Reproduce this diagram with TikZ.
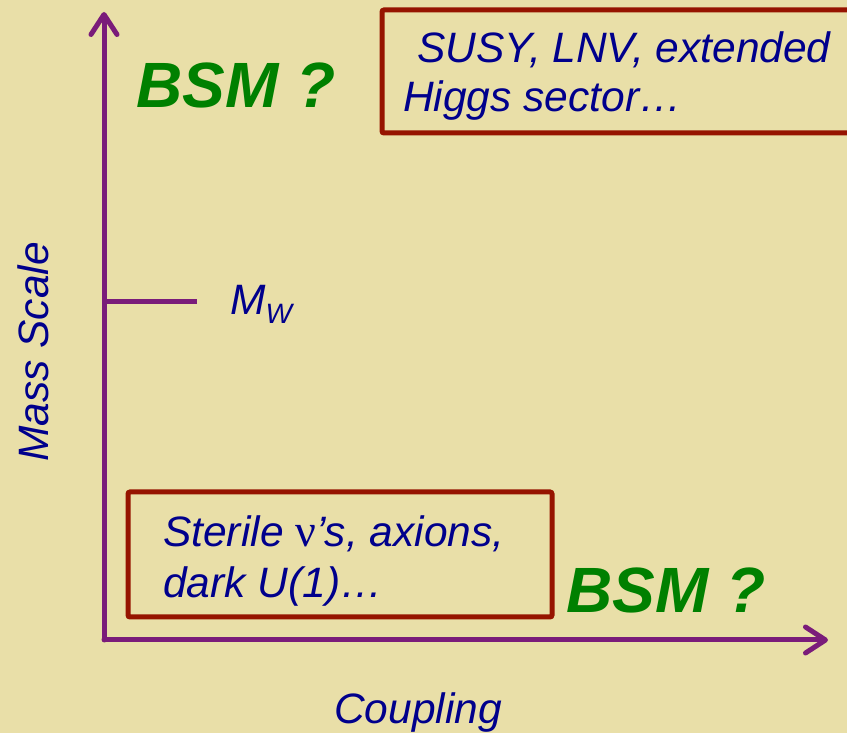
\documentclass[tikz,border=0pt]{standalone}
\usepackage{fontspec}
\setmainfont{Liberation Sans}
\newfontfamily\greekfont{Liberation Serif}
\usetikzlibrary{arrows.meta}
\definecolor{bg}{RGB}{233,223,168}
\definecolor{axis}{RGB}{122,28,122}
\definecolor{boxred}{RGB}{150,20,0}
\definecolor{txtblue}{RGB}{0,0,140}
\definecolor{bsmgreen}{RGB}{0,128,0}
\tikzset{
  axisline/.style={draw=axis, line width=5pt, line cap=round},
  axisarrow/.style={axisline, -{Straight Barb[length=20pt,width=26pt,round]}},
  redbox/.style={draw=boxred, line width=5pt, rounded corners=2pt},
  bluetext/.style={text=txtblue, font=\fontsize{42.5}{50}\selectfont\itshape, inner sep=0pt},
  bsm/.style={text=bsmgreen, font=\fontsize{64}{74}\selectfont\bfseries\itshape, inner sep=0pt}
}
\begin{document}
\begin{tikzpicture}[x=1pt,y=1pt]
\useasboundingbox (0,0) rectangle (847,733);
\clip (0,0) rectangle (847,733);
\fill[bg] (0,0) rectangle (847,733);
% axes
\coordinate (o) at (104,93);
\coordinate (ytip) at (104,721);
\coordinate (xtip) at (828,93);
\coordinate (tickA) at (104,431);
\coordinate (tickB) at (197,431);
\draw[axisarrow] (o) -- (ytip);
\draw[axisarrow] (o) -- (xtip);
\draw[axisline, line cap=butt] (tickA) -- (tickB);
% boxes
\draw[redbox] (382,723) rectangle (860,600);
\draw[redbox] (128,241) rectangle (552,116);
% texts
\node[bluetext, anchor=base west] (t1) at (417,670) {SUSY, LNV, extended};
\node[bluetext, anchor=base west] (t2) at (403,621) {Higgs sector\ldots};
\node[bluetext, anchor=base west] (b1) at (163,186) {Sterile {\greekfont\upshape\fontsize{46}{50}\selectfont ν}’s, axions,};
\node[bluetext, anchor=base west] (b2) at (163,135) {dark U(1)\ldots};
\node[bsm, anchor=base west] (bsmtop) at (136,625) {BSM ?};
\node[bsm, anchor=base west] (bsmbot) at (566,120) {BSM ?};
\node[bluetext, anchor=base west] (mw) at (230,418) {M\raisebox{-9pt}{\fontsize{28}{30}\selectfont W}};
\node[bluetext, anchor=base, rotate=90] (ms) at (48,381) {Mass Scale};
\node[bluetext, anchor=base] (cp) at (418,9) {Coupling};
\end{tikzpicture}
\end{document}
